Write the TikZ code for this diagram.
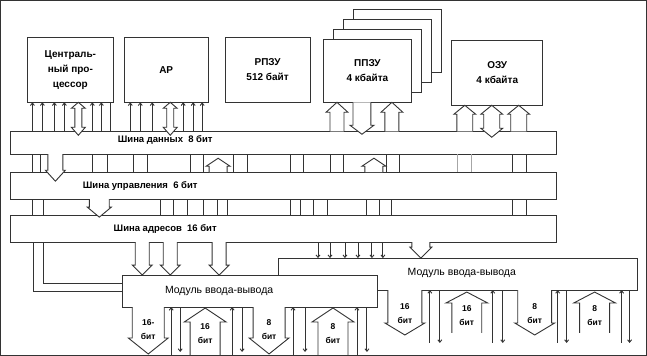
\documentclass[tikz,border=0pt]{standalone}
\usepackage{fontspec}
\setmainfont{Liberation Sans}
\usetikzlibrary{arrows.meta}
% hollow single arrow: x, tail y, head-base y, tip y, shaft half, head half
\newcommand{\harrow}[6]{%
  \draw[hol] ({#1-#5},#2) -- ({#1-#5},#3) -- ({#1-#6},#3) -- (#1,#4) -- ({#1+#6},#3) -- ({#1+#5},#3) -- ({#1+#5},#2);}
% hollow double arrow: x, tip1, base1, base2, tip2, shaft half, head half
\newcommand{\dharrow}[7]{%
  \draw[hol] ({#1-#6},#3) -- ({#1-#7},#3) -- (#1,#2) -- ({#1+#7},#3) -- ({#1+#6},#3) -- ({#1+#6},#4) -- ({#1+#7},#4) -- (#1,#5) -- ({#1-#7},#4) -- ({#1-#6},#4) -- cycle;}
\begin{document}
\begin{tikzpicture}[x=1pt,y=-1pt,line width=0.9pt,draw=black!80,
  every path/.style={draw=black!80},
  box/.style={draw,fill=white,inner sep=0pt,align=center,font=\fontsize{10}{15}\selectfont\bfseries},
  bus/.style={draw,fill=white,inner sep=0pt},
  lab/.style={inner sep=0pt,font=\fontsize{9.5}{11}\selectfont\bfseries},
  mlab/.style={inner sep=0pt,font=\fontsize{10.5}{12}\selectfont},
  blab/.style={inner sep=0pt,align=center,font=\fontsize{8.5}{14}\selectfont\bfseries},
  hol/.style={fill=white,line join=miter},
  tup/.style={-{Straight Barb[length=2.5pt,width=4pt]}},
  faint/.style={draw=black!35}]
\useasboundingbox (0,0) rectangle (647,355);
% top boxes
\node[box,minimum width=86pt,minimum height=65pt] (cpu) at (70,69.5) {Централь-\\ный про-\\цессор};
\node[box,minimum width=84pt,minimum height=65pt] (ar) at (166,69.5) {АР};
\node[box,minimum width=85pt,minimum height=65pt] (rpzu) at (267.5,69.5) {РПЗУ\\512 байт};
\node[box,minimum width=89pt,minimum height=63pt] (f3) at (397.5,40.5) {};
\node[box,minimum width=89pt,minimum height=63pt] (f2) at (387.5,50.5) {};
\node[box,minimum width=89pt,minimum height=63pt] (f1) at (377.5,60.5) {};
\node[box,minimum width=89pt,minimum height=63pt] (ppzu) at (367.5,70.5) {ППЗУ\\4 кбайта};
\node[box,minimum width=91pt,minimum height=65pt] (ozu) at (497.5,72.5) {ОЗУ\\4 кбайта};
% buses
\node[bus,minimum width=547pt,minimum height=23pt] (db) at (283.5,142.5) {};
\node[bus,minimum width=547pt,minimum height=27pt] (cb) at (283.5,185.5) {};
\node[bus,minimum width=547pt,minimum height=27pt] (ab) at (283.5,228.5) {};
\node[lab] (dbl) at (165,140) {Шина данных\ \ 8 бит};
\node[lab] (cbl) at (140,186) {Шина управления\ \ 6 бит};
\node[lab] (abl) at (165,229) {Шина адресов\ \ 16 бит};
% boxes -> data bus
\foreach \x in {32,42,54,64,92,101,130,140,152,183,193,202}
  \draw[tup] (\x,131) -- (\x,102);
\draw (110,131) -- (110,102);
\dharrow{78}{102}{108}{127}{135}{3.5}{7}
\dharrow{170}{102}{108}{127}{135}{3.5}{7}
\harrow{337}{131}{112}{102}{7}{11}
\harrow{362}{102}{125}{134}{9}{12}
\harrow{392}{131}{112}{102}{7}{11}
\harrow{465}{131}{114}{105}{8}{11}
\dharrow{492}{105}{114}{128}{137}{8}{11}
\harrow{519}{131}{114}{105}{8}{11}
% data bus <-> control bus
\foreach \x in {32,40,92,107,133,147,190,203,233,247,290,303,330,343,387,400,513,527}
  \draw (\x,154) -- (\x,172);
\foreach \x in {458,472} \draw[faint] (\x,154) -- (\x,172);
\harrow{55}{154}{170}{181}{7.5}{10}
\harrow{218}{172}{166}{158}{9}{12}
\harrow{374}{172}{166}{158}{9}{12}
% control bus <-> address bus
\foreach \x in {32,43,160,173,187,203,217,227,290,300,313,327,367,380,392,513,527}
  \draw (\x,199) -- (\x,215);
\harrow{99}{199}{207}{217}{10}{12}
% address bus -> modules
\draw (33,242) -- (33,291) -- (122,291);
\draw (43,242) -- (43,283) -- (122,283);
\foreach \x in {318,330,345,358,372,383}
  \draw[tup] (\x,242) -- (\x,258);
\harrow{142}{242}{265}{275}{7}{10}
\harrow{170}{242}{265}{275}{7}{10}
\harrow{219}{242}{265}{275}{7}{10}
% module 2
\node[bus,minimum width=360pt,minimum height=32pt] (m2) at (458,274) {};
\node[mlab] (m2l) at (462,273) {Модуль ввода-вывода};
\harrow{421}{242}{247}{258}{9}{11}
\harrow{405}{290}{323}{335}{17}{20}
\harrow{467}{333}{303}{292}{15}{21}
\harrow{535}{290}{323}{335}{17}{20}
\harrow{595}{333}{303}{292}{15}{21}
\node[blab] (t21) at (405,314) {16\\бит};
\node[blab] (t22) at (467,316) {16\\бит};
\node[blab] (t23) at (535,314) {8\\бит};
\node[blab] (t24) at (595,316) {8\\бит};
\foreach \x in {430,493,558,622} \draw[tup] (\x,343) -- (\x,290);
\foreach \x in {440,503,567,630} \draw[tup] (\x,290) -- (\x,343);
% module 1
\node[bus,minimum width=256pt,minimum height=32pt] (m1) at (250,291) {};
\node[mlab] (m1l) at (219,291) {Модуль ввода-вывода};
\harrow{148}{307}{338}{354}{16}{20}
\harrow{205}{355}{322}{308}{15}{21}
\harrow{269}{307}{338}{354}{16}{20}
\harrow{333}{355}{322}{308}{15}{21}
\node[blab] (t11) at (148,330) {16-\\бит};
\node[blab] (t12) at (205,334) {16\\бит};
\node[blab] (t13) at (269,330) {8\\бит};
\node[blab] (t14) at (333,334) {8\\бит};
\foreach \x in {171,232,293,357} \draw[tup] (\x,355) -- (\x,307);
\foreach \x in {180,242,305,367} \draw[tup] (\x,307) -- (\x,352);
\end{tikzpicture}
\end{document}
